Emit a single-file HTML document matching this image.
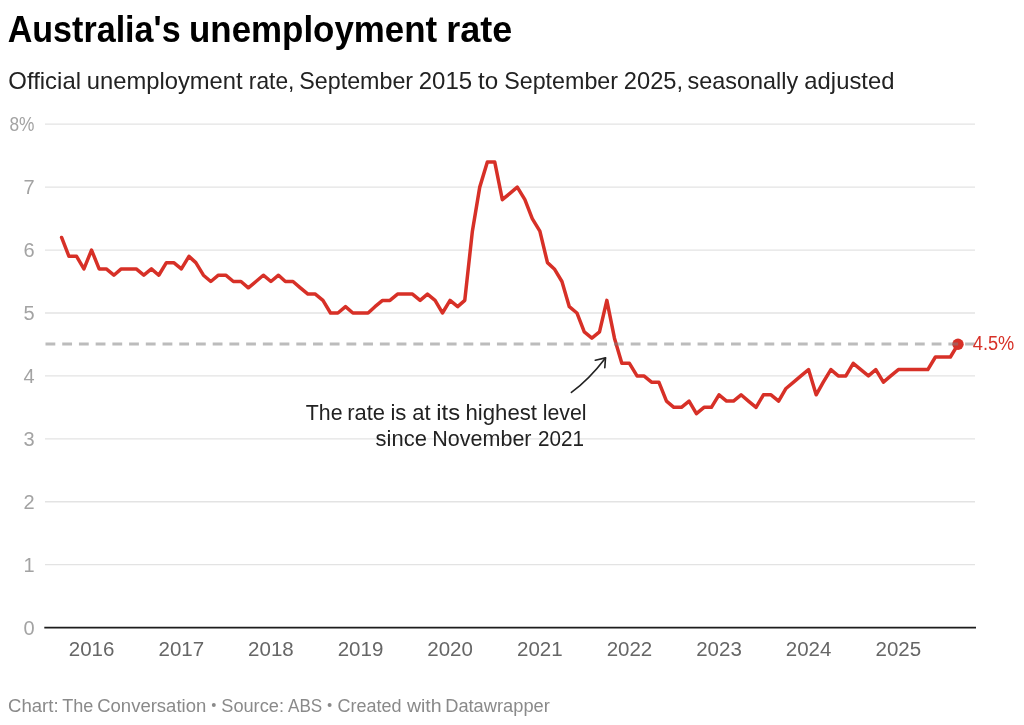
<!DOCTYPE html>
<html><head><meta charset="utf-8">
<style>
html,body{margin:0;padding:0;background:#fff;}
body{width:1024px;height:725px;overflow:hidden;position:relative;}
svg{position:absolute;left:0;top:0;will-change:transform;}
text{font-family:"Liberation Sans",sans-serif;}
.g{stroke:#e3e3e3;stroke-width:1.3;}
.yl{font-size:20px;fill:#a3a3a3;text-anchor:end;}
.xl{font-size:20.5px;fill:#666;text-anchor:middle;}
.title{font-size:36.5px;font-weight:bold;fill:#000;}
.sub{font-size:23.2px;fill:#222;}
.foot{font-size:18.3px;fill:#8a8a8a;}
.b{font-size:13px;}
.ann{font-size:21.2px;fill:#222;}
</style></head><body>
<svg width="1024" height="725" viewBox="0 0 1024 725">
<text x="7.67" y="42.1" class="title" textLength="172.98" lengthAdjust="spacingAndGlyphs">Australia's</text><text x="189.05" y="42.1" class="title" textLength="248.08" lengthAdjust="spacingAndGlyphs">unemployment</text><text x="446.23" y="42.1" class="title" textLength="66.07" lengthAdjust="spacingAndGlyphs">rate</text>
<text x="8.37" y="88.6" class="sub" textLength="72.63" lengthAdjust="spacingAndGlyphs">Official</text><text x="86.76" y="88.6" class="sub" textLength="155.83" lengthAdjust="spacingAndGlyphs">unemployment</text><text x="248.83" y="88.6" class="sub" textLength="45.59" lengthAdjust="spacingAndGlyphs">rate,</text><text x="299.3" y="88.6" class="sub" textLength="113.84" lengthAdjust="spacingAndGlyphs">September</text><text x="418.7" y="88.6" class="sub" textLength="53.47" lengthAdjust="spacingAndGlyphs">2015</text><text x="478.04" y="88.6" class="sub" textLength="20.14" lengthAdjust="spacingAndGlyphs">to</text><text x="504.2" y="88.6" class="sub" textLength="113.84" lengthAdjust="spacingAndGlyphs">September</text><text x="623.82" y="88.6" class="sub" textLength="59.25" lengthAdjust="spacingAndGlyphs">2025,</text><text x="687.54" y="88.6" class="sub" textLength="110.64" lengthAdjust="spacingAndGlyphs">seasonally</text><text x="804.37" y="88.6" class="sub" textLength="90.09" lengthAdjust="spacingAndGlyphs">adjusted</text>
<line x1="45" x2="975" y1="564.68" y2="564.68" class="g"/>
<line x1="45" x2="975" y1="501.75" y2="501.75" class="g"/>
<line x1="45" x2="975" y1="438.83" y2="438.83" class="g"/>
<line x1="45" x2="975" y1="375.90" y2="375.90" class="g"/>
<line x1="45" x2="975" y1="312.98" y2="312.98" class="g"/>
<line x1="45" x2="975" y1="250.05" y2="250.05" class="g"/>
<line x1="45" x2="975" y1="187.13" y2="187.13" class="g"/>
<line x1="45" x2="975" y1="124.20" y2="124.20" class="g"/>

<line x1="44.3" x2="976" y1="627.6" y2="627.6" stroke="#1d1d1d" stroke-width="1.6"/>
<text x="34.5" y="634.70" class="yl">0</text>
<text x="34.5" y="571.78" class="yl">1</text>
<text x="34.5" y="508.85" class="yl">2</text>
<text x="34.5" y="445.93" class="yl">3</text>
<text x="34.5" y="383.00" class="yl">4</text>
<text x="34.5" y="320.08" class="yl">5</text>
<text x="34.5" y="257.15" class="yl">6</text>
<text x="34.5" y="194.23" class="yl">7</text>
<text x="34.5" y="131.30" class="yl" textLength="25" lengthAdjust="spacingAndGlyphs">8%</text>

<text x="91.54" y="656.2" class="xl">2016</text>
<text x="181.35" y="656.2" class="xl">2017</text>
<text x="270.92" y="656.2" class="xl">2018</text>
<text x="360.48" y="656.2" class="xl">2019</text>
<text x="450.05" y="656.2" class="xl">2020</text>
<text x="539.86" y="656.2" class="xl">2021</text>
<text x="629.43" y="656.2" class="xl">2022</text>
<text x="718.99" y="656.2" class="xl">2023</text>
<text x="808.56" y="656.2" class="xl">2024</text>
<text x="898.37" y="656.2" class="xl">2025</text>

<text x="305.8" y="419.5" class="ann" textLength="36.72" lengthAdjust="spacingAndGlyphs">The</text><text x="347.25" y="419.5" class="ann" textLength="37.8" lengthAdjust="spacingAndGlyphs">rate</text><text x="390.43" y="419.5" class="ann" textLength="16.02" lengthAdjust="spacingAndGlyphs">is</text><text x="412.36" y="419.5" class="ann" textLength="18.31" lengthAdjust="spacingAndGlyphs">at</text><text x="436.21" y="419.5" class="ann" textLength="23.86" lengthAdjust="spacingAndGlyphs">its</text><text x="465.53" y="419.5" class="ann" textLength="71.45" lengthAdjust="spacingAndGlyphs">highest</text><text x="542.69" y="419.5" class="ann" textLength="43.85" lengthAdjust="spacingAndGlyphs">level</text>
<text x="375.62" y="445.9" class="ann" textLength="51.28" lengthAdjust="spacingAndGlyphs">since</text><text x="432.32" y="445.9" class="ann" textLength="99.21" lengthAdjust="spacingAndGlyphs">November</text><text x="537.92" y="445.9" class="ann" textLength="46.05" lengthAdjust="spacingAndGlyphs">2021</text>
<path d="M571.4,392.4 C580,386 594,373 605.5,357.9" fill="none" stroke="#222" stroke-width="1.6" stroke-linecap="round"/>
<path d="M595.3,360.2 L605.5,357.9 L604.8,367.8" fill="none" stroke="#222" stroke-width="1.6" stroke-linecap="round" stroke-linejoin="round"/>
<path d="M61.60,237.47 L68.96,256.34 L76.57,256.34 L83.93,268.93 L91.54,250.05 L99.14,268.93 L106.26,268.93 L113.87,275.22 L121.23,268.93 L128.84,268.93 L136.20,268.93 L143.80,275.22 L151.41,268.93 L158.77,275.22 L166.38,262.64 L173.74,262.64 L181.35,268.93 L188.96,256.34 L195.83,262.64 L203.43,275.22 L210.80,281.51 L218.40,275.22 L225.76,275.22 L233.37,281.51 L240.98,281.51 L248.34,287.81 L255.95,281.51 L263.31,275.22 L270.92,281.51 L278.52,275.22 L285.39,281.51 L293.00,281.51 L300.36,287.81 L307.97,294.10 L315.33,294.10 L322.94,300.39 L330.54,312.98 L337.91,312.98 L345.51,306.68 L352.87,312.98 L360.48,312.98 L368.09,312.98 L374.96,306.68 L382.57,300.39 L389.93,300.39 L397.54,294.10 L404.90,294.10 L412.50,294.10 L420.11,300.39 L427.47,294.10 L435.08,300.39 L442.44,312.98 L450.05,300.39 L457.66,306.68 L464.77,300.39 L472.38,231.17 L479.74,187.13 L487.35,161.96 L494.71,161.96 L502.32,199.71 L509.92,193.42 L517.28,187.13 L524.89,199.71 L532.25,218.59 L539.86,231.17 L547.47,262.64 L554.34,268.93 L561.94,281.51 L569.31,306.68 L576.91,312.98 L584.28,331.85 L591.88,338.15 L599.49,331.85 L606.85,300.39 L614.46,338.15 L621.82,363.31 L629.43,363.31 L637.03,375.90 L643.90,375.90 L651.51,382.19 L658.87,382.19 L666.48,401.07 L673.84,407.36 L681.45,407.36 L689.06,401.07 L696.42,413.66 L704.02,407.36 L711.39,407.36 L718.99,394.78 L726.60,401.07 L733.47,401.07 L741.08,394.78 L748.44,401.07 L756.05,407.36 L763.41,394.78 L771.01,394.78 L778.62,401.07 L785.98,388.49 L793.59,382.19 L800.95,375.90 L808.56,369.61 L816.17,394.78 L823.28,382.19 L830.89,369.61 L838.25,375.90 L845.86,375.90 L853.22,363.31 L860.83,369.61 L868.43,375.90 L875.80,369.61 L883.40,382.19 L890.76,375.90 L898.37,369.61 L905.98,369.61 L912.85,369.61 L920.46,369.61 L927.82,369.61 L935.42,357.02 L942.79,357.02 L950.39,357.02 L958.00,344.44" fill="none" stroke="#d73027" stroke-width="3.5" stroke-linejoin="round" stroke-linecap="round"/>
<circle cx="958.00" cy="344.2" r="5.7" fill="#d73027"/>
<line x1="45.5" x2="975" y1="343.95" y2="343.95" stroke="#808080" stroke-opacity="0.53" stroke-width="3.1" stroke-dasharray="9.8 6.92"/>
<text x="972.8" y="350.0" font-size="20.3px" fill="#d73027" textLength="41.5" lengthAdjust="spacingAndGlyphs">4.5%</text>
<text x="8.09" y="711.6" class="foot" textLength="50.54" lengthAdjust="spacingAndGlyphs">Chart:</text><text x="62.21" y="711.6" class="foot" textLength="31.15" lengthAdjust="spacingAndGlyphs">The</text><text x="97.19" y="711.6" class="foot" textLength="109.05" lengthAdjust="spacingAndGlyphs">Conversation</text><text x="221.25" y="711.6" class="foot" textLength="62.7" lengthAdjust="spacingAndGlyphs">Source:</text><text x="288.0" y="711.6" class="foot" textLength="34.19" lengthAdjust="spacingAndGlyphs">ABS</text><text x="337.42" y="711.6" class="foot" textLength="64.01" lengthAdjust="spacingAndGlyphs">Created</text><text x="406.9" y="711.6" class="foot" textLength="34.75" lengthAdjust="spacingAndGlyphs">with</text><text x="445.2" y="711.6" class="foot" textLength="104.62" lengthAdjust="spacingAndGlyphs">Datawrapper</text>
<circle cx="213.8" cy="704.9" r="2" fill="#8a8a8a"/><circle cx="329.6" cy="704.9" r="2" fill="#8a8a8a"/>
</svg>
</body></html>
